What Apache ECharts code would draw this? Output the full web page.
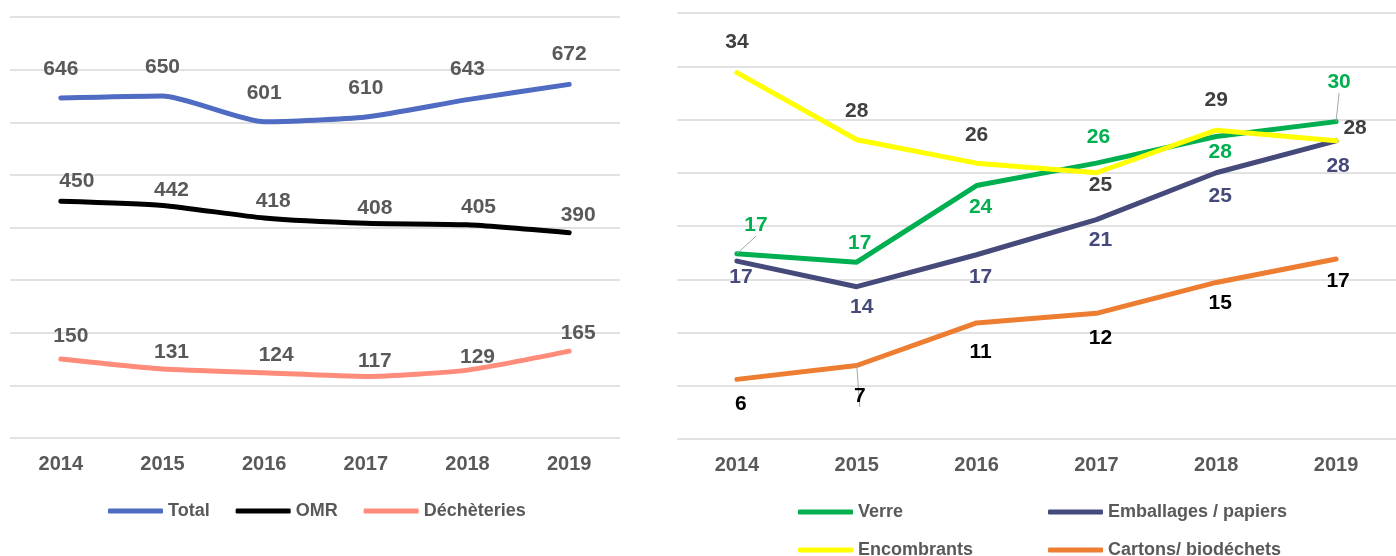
<!DOCTYPE html>
<html>
<head>
<meta charset="utf-8">
<script src="https://cdn.jsdelivr.net/npm/echarts@6/dist/echarts.min.js"></script>
<style>
  html, body { margin: 0; padding: 0; background: #fff; }
  #main { width: 1396px; height: 556px; }
</style>
</head>
<body>
<div id="main"></div>
<script>
// donnees - graphique de gauche
var years = ['2014', '2015', '2016', '2017', '2018', '2019'];
var total = [646, 650, 601, 610, 643, 672];
var omr = [450, 442, 418, 408, 405, 390];
var decheteries = [150, 131, 124, 117, 129, 165];

// donnees - graphique de droite
var verre = [17.4, 16.6, 23.8, 25.9, 28.4, 29.8];
var emballages = [16.7, 14.3, 17.3, 20.6, 25.0, 28.0];
var encombrants = [34.4, 28.1, 25.9, 25.0, 29.0, 28.0];
var cartons = [5.6, 6.9, 10.9, 11.8, 14.7, 16.9];

// decalage des etiquettes (centre de l'etiquette par rapport au point)
var offTotal = [[0,-29],[0,-29],[0,-29],[0,-29],[0,-30],[0,-30]];
var offOmr = [[16,-20],[9,-15],[9,-17],[9,-15],[11,-18],[9,-18]];
var offDech = [[10,-23],[9,-17],[12,-18],[9,-15],[10,-13],[9,-18]];
var offEnc = [[0,-30],[0,-29],[0,-28],[4,12],[0,-30],[19,-13]];
var offVerre = [[19,-28],[3,-19],[4,22],[2,-26],[4,16],[3,-39]];
var offEmb = [[4,16],[5,20],[4,22],[4,21],[4,23],[2,25]];
var offCart = [[4,25],[3,31],[4,29],[4,25],[4,21],[2,22]];
// lignes de rappel
var leaderVerre = [true, false, false, false, false, true];
var leaderCart = [false, true, false, false, false, false];

var font = '"Liberation Sans", Arial, sans-serif';

function buildData(values, offsets, leaders) {
  return values.map(function (v, i) {
    var item = { value: v, label: { offset: offsets[i] } };
    if (leaders && leaders[i]) {
      item.labelLine = { show: true, lineStyle: { color: '#a6a6a6', width: 1 } };
    }
    return item;
  });
}

function lineSeries(name, values, offsets, color, labelColor, xi, smooth, leaders) {
  return {
    name: name,
    type: 'line',
    xAxisIndex: xi,
    yAxisIndex: xi,
    smooth: smooth,
    symbol: 'circle',
    symbolSize: 0,
    showSymbol: true,
    lineStyle: { color: color, width: 5, cap: 'round', join: 'round' },
    itemStyle: { color: color },
    label: {
      show: true,
      position: 'inside',
      color: labelColor,
      fontFamily: font,
      fontWeight: 'bold',
      fontSize: 21,
      formatter: function (p) { return Math.round(p.value); }
    },
    labelLine: { show: false },
    emphasis: { disabled: true },
    data: buildData(values, offsets, leaders)
  };
}

var gridLine = { show: true, lineStyle: { color: '#d9d9d9', width: 1.5 } };
var axisLab = { color: '#595959', fontFamily: font, fontWeight: 'bold', fontSize: 20, margin: 16 };
var legendText = { color: '#595959', fontFamily: font, fontWeight: 'bold', fontSize: 18, lineHeight: 18 };

// une legende par position
function legend(names, left, top, gap) {
  return { data: names, left: left, top: top, padding: 0, itemWidth: 55, itemHeight: 5,
    icon: 'roundRect', itemGap: gap || 10, textStyle: legendText, selectedMode: false };
}

var chart = echarts.init(document.getElementById('main'));
chart.setOption({
  animation: false,
  backgroundColor: '#fff',
  grid: [
    { left: 10, width: 610, top: 17, height: 421 },
    { left: 677, width: 730, top: 13, height: 426 }
  ],
  xAxis: [
    { gridIndex: 0, type: 'category', data: years, boundaryGap: true,
      axisLine: { show: false }, axisTick: { show: false }, axisLabel: axisLab },
    { gridIndex: 1, type: 'category', data: years, boundaryGap: true,
      axisLine: { show: false }, axisTick: { show: false }, axisLabel: axisLab }
  ],
  yAxis: [
    { gridIndex: 0, type: 'value', min: 0, max: 800, interval: 100,
      axisLabel: { show: false }, axisLine: { show: false }, axisTick: { show: false }, splitLine: gridLine },
    { gridIndex: 1, type: 'value', min: 0, max: 40, interval: 5,
      axisLabel: { show: false }, axisLine: { show: false }, axisTick: { show: false }, splitLine: gridLine }
  ],
  legend: [
    legend(['Total', 'OMR', 'Déchèteries'], 108, 502, 26),
    legend(['Verre'], 798, 503),
    legend(['Emballages / papiers'], 1048, 503),
    legend(['Encombrants'], 798, 541),
    legend(['Cartons/ biodéchets'], 1048, 541)
  ],
  series: [
    lineSeries('Total', total, offTotal, '#4f6bc2', '#595959', 0, 0.2),
    lineSeries('OMR', omr, offOmr, '#000000', '#595959', 0, 0.2),
    lineSeries('Déchèteries', decheteries, offDech, '#ff8b7b', '#595959', 0, 0.2),
    lineSeries('Cartons/ biodéchets', cartons, offCart, '#ed7d31', '#000000', 1, false, leaderCart),
    lineSeries('Emballages / papiers', emballages, offEmb, '#464a7b', '#464a7b', 1, false),
    lineSeries('Verre', verre, offVerre, '#00b050', '#00b050', 1, false, leaderVerre),
    lineSeries('Encombrants', encombrants, offEnc, '#ffff00', '#404040', 1, false)
  ]
});
</script>
</body>
</html>
